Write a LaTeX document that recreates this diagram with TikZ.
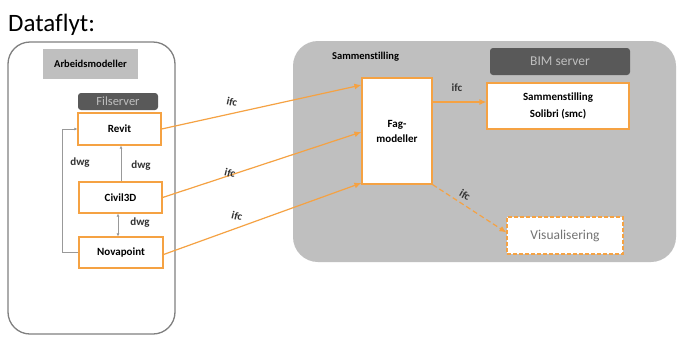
\documentclass[tikz,border=0pt]{standalone}
\usepackage{fontspec}
\setmainfont[Ligatures=NoCommon]{Carlito}
\usetikzlibrary{arrows.meta}
\definecolor{org}{HTML}{F5A243}
\definecolor{lgray}{HTML}{BFBFBF}
\definecolor{dgray}{HTML}{595959}
\definecolor{bordergray}{HTML}{808080}
\tikzset{
  obox/.style={draw=org, line width=1.2pt, fill=white, font=\bfseries\fontsize{11}{13}\selectfont, inner sep=0pt, align=center},
  darkbox/.style={fill=dgray, rounded corners=3pt, text=lgray, font=\fontsize{12.5}{14}\selectfont, inner sep=0pt},
  oarrow/.style={draw=org, line width=1.2pt, -{Latex[length=7pt,width=6pt]}},
  garrow/.style={draw=bordergray!80, line width=0.8pt, -{Latex[length=3pt,width=3pt]}},
  lbl/.style={font=\bfseries\fontsize{11}{13}\selectfont, text=black!80, inner sep=0pt},
}
\begin{document}
\begin{tikzpicture}[x=1pt,y=-1pt]
\useasboundingbox (0,0) rectangle (682,338);
\fill[white] (0,0) rectangle (682,338);
% title
\node[anchor=base west, font=\fontsize{25}{29}\selectfont, inner sep=0pt] (title) at (8,31) {Dataflyt:};
% left container
\draw[draw=bordergray, line width=1.3pt, rounded corners=22pt] (8,42) rectangle (175,334);
\node[fill=lgray, minimum width=95pt, minimum height=30pt, inner sep=0pt, font=\bfseries\fontsize{10.5}{12}\selectfont] (arb) at (90.5,64) {Arbeidsmodeller};
\node[darkbox, minimum width=80pt, minimum height=17pt] (fil) at (118,101.5) {Filserver};
\node[obox, minimum width=83pt, minimum height=32pt] (revit) at (119.5,129) {Revit};
\node[obox, minimum width=83pt, minimum height=31pt] (civil) at (120.5,197.5) {Civil3D};
\node[obox, minimum width=84pt, minimum height=31pt] (nova) at (121,252.5) {Novapoint};
% right container
\fill[lgray, rounded corners=25pt] (293,41) rectangle (676,262);
\node[lbl, anchor=west, font=\bfseries\fontsize{10.5}{12}\selectfont, text=black] (samm) at (332,57) {Sammenstilling};
\node[darkbox, minimum width=140pt, minimum height=27pt, font=\fontsize{13.5}{15}\selectfont] (bim) at (560,61.5) {BIM server};
\node[obox, minimum width=70pt, minimum height=106pt] (fag) at (397,131) {Fag-\\[2pt]modeller};
\node[obox, minimum width=142pt, minimum height=46pt] (sol) at (558,106) {Sammenstilling\\[4pt]Solibri (smc)};
\node[obox, dashed, dash pattern=on 4pt off 2pt, minimum width=116pt, minimum height=37pt, font=\fontsize{13.5}{15}\selectfont, text=black!55] (vis) at (565,235.5) {Visualisering};
% gray dwg connectors
\draw[garrow] (civil.north -| 121,0) -- (revit.south -| 121,0);
\draw[garrow, {Latex[length=3pt,width=3pt]}-{Latex[length=3pt,width=3pt]}] (civil.south -| 118,0) -- (nova.north -| 118,0);
\draw[garrow] (nova.west) -- ++(-16,0) |- (revit.west);
\node[lbl] (dwg1) at (80,163) {dwg};
\node[lbl] (dwg2) at (141,166) {dwg};
\node[lbl] (dwg3) at (140,223) {dwg};
% ifc arrows
\draw[oarrow] (revit.east) -- ([yshift=46pt]fag.west);
\draw[oarrow] (civil.east) -- ([yshift=-1pt]fag.west);
\draw[oarrow] ([yshift=-2pt]nova.east) -- ([yshift=-52pt]fag.west);
\node[lbl, rotate=-12] (ifc1) at (232,102) {ifc};
\node[lbl, rotate=-14] (ifc2) at (230,173) {ifc};
\node[lbl, rotate=-14] (ifc3) at (237,216) {ifc};
\draw[oarrow] ([yshift=29pt]fag.east) -- ([yshift=4pt]sol.west);
\node[lbl] (ifc4) at (457,88) {ifc};
\draw[oarrow, dashed, dash pattern=on 5pt off 3pt] (fag.south east) -- ([yshift=3pt]vis.west);
\node[lbl, rotate=-30] (ifc5) at (465,195) {ifc};
\end{tikzpicture}
\end{document}
